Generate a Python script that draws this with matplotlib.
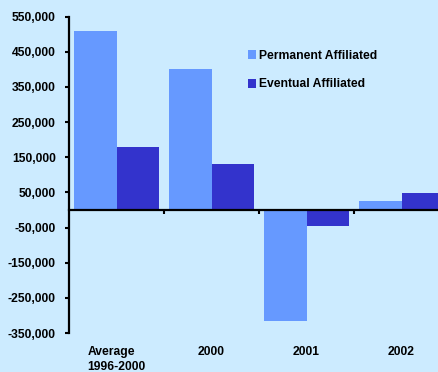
import matplotlib.pyplot as plt
from matplotlib.transforms import blended_transform_factory

plt.rcParams['font.family'] = ['Liberation Sans', 'DejaVu Sans']
plt.rcParams['font.weight'] = 'bold'

categories = ["Average\n1996-2000", "2000", "2001", "2002"]
permanent = [510000, 400000, -315000, 25000]
eventual = [180000, 130000, -47000, 48000]
series_names = ["Permanent Affiliated", "Eventual Affiliated"]
yticks = [550000, 450000, 350000, 250000, 150000, 50000,
          -50000, -150000, -250000, -350000]

bg = '#CCEBFF'
c_perm = '#6699FF'
c_even = '#3333CC'

fig = plt.figure(figsize=(4.38, 3.72), dpi=100, facecolor=bg)
ax = fig.add_axes([69 / 438, 39 / 372, 380 / 438, 316.4 / 372])
ax.set_facecolor(bg)

x = list(range(len(categories)))
w = 0.45
ax.bar([i - w / 2 for i in x], permanent, w, color=c_perm, label=series_names[0], zorder=2)
ax.bar([i + w / 2 for i in x], eventual, w, color=c_even, label=series_names[1], zorder=2)

ax.set_xlim(-0.5, len(categories) - 0.5)
ax.set_ylim(-350000, 550000)

# y axis
ax.set_yticks(yticks)
ax.set_yticklabels([f"{v:,}" for v in yticks], fontsize=8.7, fontweight='bold')
ax.tick_params(axis='y', direction='out', length=3, width=1.5, pad=6.5)

# x axis drawn through zero, ticks between groups
for s in ['top', 'right']:
    ax.spines[s].set_visible(False)
ax.spines['left'].set_linewidth(1.6)
ax.spines['bottom'].set_position(('data', 0))
ax.spines['bottom'].set_linewidth(1.6)
ax.spines['bottom'].set_zorder(3)
ax.set_xticks([i + 0.5 for i in x[:-1]])
ax.set_xticklabels([])
ax.tick_params(axis='x', direction='out', length=3, width=1.5)

# category labels below the plot
trans = blended_transform_factory(ax.transData, ax.transAxes)
for i, lab in zip(x, categories):
    ax.text(i, -0.042, lab, transform=trans, ha='center', va='top',
            fontsize=8.7, fontweight='bold', multialignment='left',
            linespacing=1.3)

leg = ax.legend(loc='upper left', bbox_to_anchor=(248 / 438, 1 - 50 / 372),
                bbox_transform=fig.transFigure, frameon=False,
                handlelength=0.7, handleheight=0.75, handletextpad=0.2,
                labelspacing=1.35, borderpad=0, borderaxespad=0,
                prop={'size': 8.7, 'weight': 'bold'})

fig.savefig('out.png', dpi=100, facecolor=bg)
